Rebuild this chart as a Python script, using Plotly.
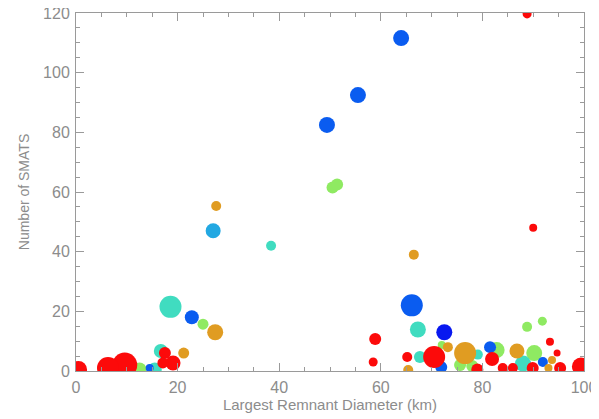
import plotly.graph_objects as go

# ---- data: (diameter km, number of SMATS, symbol size) per colour group ----
red_x = [88.8, 90.0, 58.9, 58.5, 17.5, 19.1, 17.1, 9.6, 6.3, 0.5,
         65.2, 70.5, 81.9, 93.3, 94.7, 79.0, 84.0, 86.0, 89.9, 95.3, 99.4]
red_y = [119.7, 48.0, 10.7, 3.0, 6.0, 2.7, 2.7, 2.0, 1.0, 0.5,
         4.7, 4.7, 4.0, 9.8, 6.0, 0.5, 1.0, 1.0, 1.0, 1.0, 1.5]
red_s = [9, 8, 12, 9, 12, 15, 11, 25, 22, 17,
         10, 22, 14, 8, 7, 12, 10, 10, 12, 12, 18]

orange_x = [27.6, 66.5, 27.4, 21.2, 73.2, 76.6, 86.8, 93.7, 65.4, 93.0]
orange_y = [55.3, 39.0, 13.0, 6.0, 8.0, 6.0, 6.7, 3.7, 0.3, 1.0]
orange_s = [10, 10, 16, 11, 10, 22, 15, 8, 10, 8]

green_x = [50.5, 51.4, 25.0, 12.5, 88.8, 91.8, 90.2, 82.8, 75.6, 78.0, 72.0]
green_y = [61.5, 62.5, 15.7, 0.5, 14.8, 16.7, 6.0, 7.0, 2.0, 1.7, 8.7]
green_s = [12, 12, 11, 14, 10, 9, 16, 16, 12, 12, 8]

teal_x = [18.6, 38.4, 67.3, 16.7, 15.5, 67.7, 79.1, 88.0]
teal_y = [21.5, 42.0, 13.9, 6.7, 0.5, 4.7, 5.5, 2.5]
teal_s = [22, 10, 16, 14, 14, 12, 10, 16]

sky_x = [27.0]
sky_y = [47.0]
sky_s = [15]

blue_x = [64.0, 55.5, 49.4, 22.8, 66.1, 81.5, 91.9, 71.9, 14.5]
blue_y = [111.6, 92.5, 82.5, 18.0, 22.0, 8.0, 3.0, 1.3, 1.0]
blue_s = [16, 16, 16, 14, 22, 12, 10, 12, 8]

navy_x = [72.5]
navy_y = [13.0]
navy_s = [16]

x_ticks = [0, 20, 40, 60, 80, 100]
y_ticks = [0, 20, 40, 60, 80, 100, 120]

groups = [
    (green_x, green_y, green_s, "#8fea62"),
    (teal_x, teal_y, teal_s, "#40dcc0"),
    (sky_x, sky_y, sky_s, "#22a8e2"),
    (blue_x, blue_y, blue_s, "#0a5cf0"),
    (navy_x, navy_y, navy_s, "#0818f0"),
    (orange_x, orange_y, orange_s, "#e09c22"),
    (red_x, red_y, red_s, "#fc0a0a"),
]

fig = go.Figure()
for gx, gy, gs, col in groups:
    fig.add_trace(go.Scatter(
        x=gx, y=gy, mode="markers",
        marker=dict(size=gs, color=col, line=dict(width=0), opacity=1),
        showlegend=False, cliponaxis=True,
    ))

FONT = "Liberation Sans, Arial, sans-serif"
axis_common = dict(
    showgrid=False, zeroline=False, showline=True, linecolor="#9a9a9a",
    linewidth=1, mirror="allticks", ticks="inside", ticklen=8,
    tickcolor="#9a9a9a", tickwidth=1, automargin=False,
    ticklabeloverflow="allow",
    tickfont=dict(family=FONT, size=16, color="#8c8c8c"),
)

fig.update_xaxes(
    range=[0, 100], tickvals=x_ticks, ticktext=[str(v) for v in x_ticks],
    minor=dict(dtick=5, ticks="inside", ticklen=4, tickcolor="#9a9a9a"),
    title=dict(text="Largest Remnant Diameter (km)",
               font=dict(family=FONT, size=15, color="#8c8c8c"),
               standoff=2),
    ticklabelstandoff=2,
    **axis_common,
)
fig.update_yaxes(
    range=[0, 120], tickvals=y_ticks, ticktext=[str(v) for v in y_ticks],
    minor=dict(dtick=5, ticks="inside", ticklen=4, tickcolor="#9a9a9a"),
    title=dict(text="Number of SMATS",
               font=dict(family=FONT, size=14, color="#8c8c8c"),
               standoff=10),
    ticklabelstandoff=2,
    **axis_common,
)

# the page body has an 8px margin, so the figure is shifted by (8, 8)
fig.update_layout(
    width=591, height=411,
    margin=dict(l=68, r=15, t=5, b=48),
    paper_bgcolor="white", plot_bgcolor="white",
)

fig.write_html("out.html")
